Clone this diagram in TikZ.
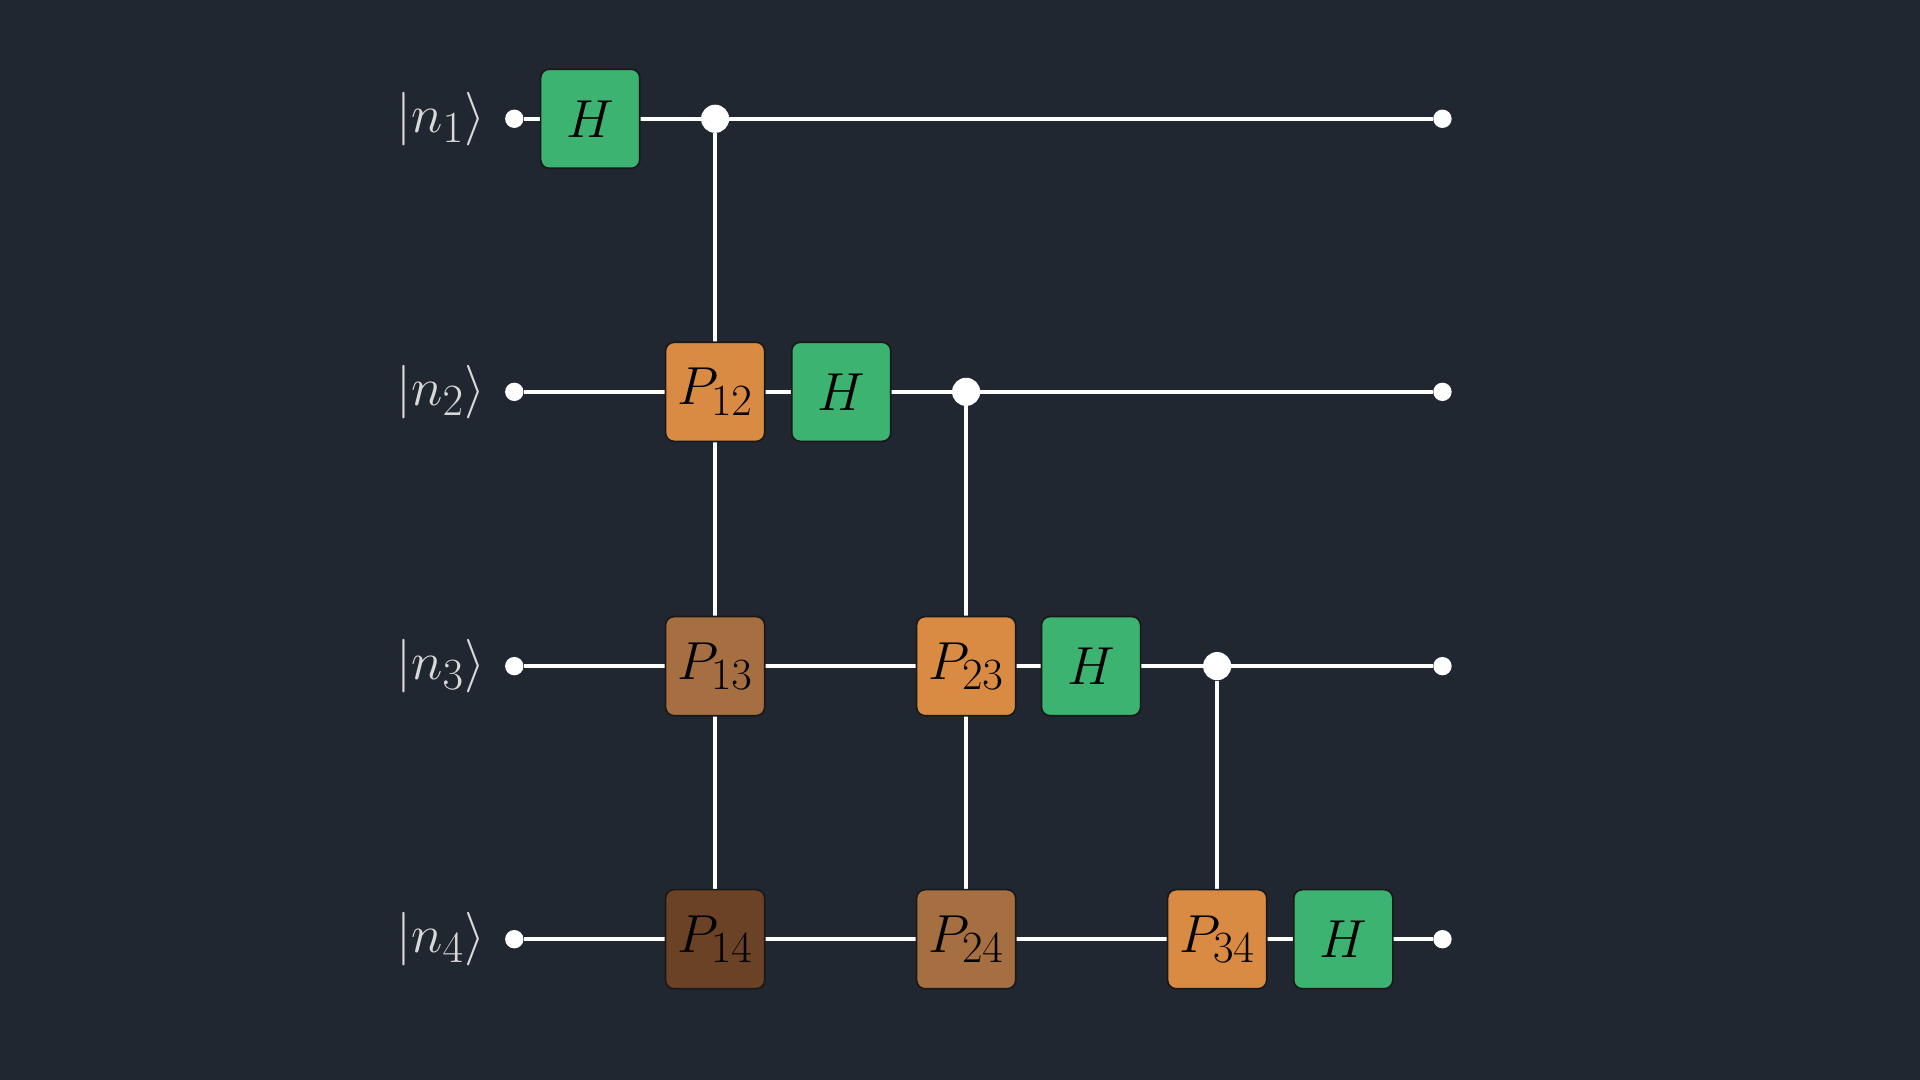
\documentclass[tikz,border=0pt]{standalone}
\usepackage{amsmath}
\begin{document}
\begin{tikzpicture}[x=0.02cm,y=-0.02cm,
  wire/.style={white,line width=1.7pt},
  gate/.style={draw=black!90,line width=0.8pt,rounded corners=4pt,minimum width=1.62cm,minimum height=1.62cm,inner sep=0pt,font=\fontsize{28}{32}\selectfont},
  hg/.style={gate,fill=hgreen},
  p1/.style={gate,fill=porange},
  p2/.style={gate,fill=pbrown},
  p3/.style={gate,fill=pdark},
  edot/.style={circle,fill=white,inner sep=0pt,minimum size=0.3cm},
  cdot/.style={circle,fill=white,inner sep=0pt,minimum size=0.46cm},
  lab/.style={text=white!85!black,font=\fontsize{30}{34}\selectfont}]
\definecolor{bg}{HTML}{212731}
\definecolor{hgreen}{HTML}{3CB371}
\definecolor{porange}{HTML}{D98B43}
\definecolor{pbrown}{HTML}{A56F42}
\definecolor{pdark}{HTML}{6B4226}
\fill[bg] (0,0) rectangle (1568,882);
\useasboundingbox (0,0) rectangle (1568,882);
\foreach \i/\y in {1/97,2/320,3/544,4/767}{
  \node[lab] (l\i) at (360,\y) {$|n_{\i}\rangle$};
  \node[edot] (s\i) at (420,\y) {};
  \node[edot] (e\i) at (1178,\y) {};
  \draw[wire] (s\i) -- (e\i);
}
\node[cdot] (c1) at (584,97) {};
\node[cdot] (c2) at (789,320) {};
\node[cdot] (c3) at (994,544) {};
\coordinate (v14) at (584,767);
\coordinate (v24) at (789,767);
\coordinate (v34) at (994,767);
\draw[wire] (c1) -- (v14);
\draw[wire] (c2) -- (v24);
\draw[wire] (c3) -- (v34);
\node[hg] (h1) at (482,97) {$H$};
\node[p1] (p12) at (584,320) {$P_{12}$};
\node[hg] (h2) at (687,320) {$H$};
\node[p2] (p13) at (584,544) {$P_{13}$};
\node[p1] (p23) at (789,544) {$P_{23}$};
\node[hg] (h3) at (891,544) {$H$};
\node[p3] (p14) at (584,767) {$P_{14}$};
\node[p2] (p24) at (789,767) {$P_{24}$};
\node[p1] (p34) at (994,767) {$P_{34}$};
\node[hg] (h4) at (1097,767) {$H$};
\end{tikzpicture}
\end{document}
